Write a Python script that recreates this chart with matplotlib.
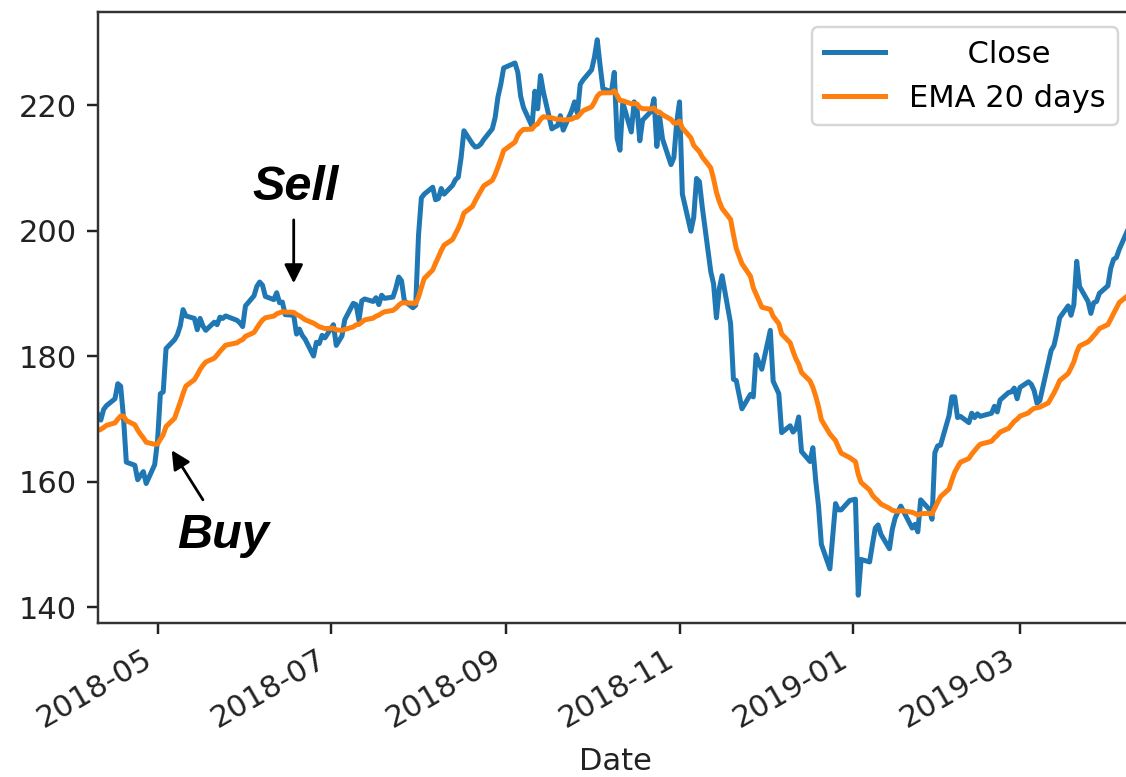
import pandas as pd
import matplotlib
matplotlib.use("Agg")
import matplotlib.pyplot as plt
import matplotlib.dates as mdates

# -----------------------------
# DATA  (adjusted close, one list per month)
# -----------------------------
apr_2018 = [170.7, 169.8, 171.5, 172.1, 173.2, 175.6, 175.2, 170.2, 163.1, 162.6,
            160.3, 161.0, 161.6, 159.7, 162.7]
may_2018 = [166.5, 174.0, 174.3, 181.2, 182.6, 183.4, 184.8, 187.4, 186.4, 186.0,
            184.2, 186.0, 184.8, 184.1, 185.4, 185.0, 186.2, 186.0, 186.4, 185.7,
            185.3, 184.7]
jun_2018 = [188.0, 189.6, 191.1, 191.8, 191.3, 189.5, 189.0, 190.1, 188.5, 188.6,
            186.6, 186.5, 183.5, 184.3, 183.3, 182.7, 180.0, 182.2, 182.0, 183.3,
            182.9]
jul_2018 = [185.0, 181.7, 183.2, 185.8, 188.4, 188.2, 185.7, 188.8, 189.1, 188.7,
            189.3, 188.2, 189.7, 189.2, 189.4, 190.8, 192.6, 192.0, 188.8, 187.7,
            188.1]
aug_2018 = [199.3, 205.2, 205.8, 206.9, 204.9, 205.1, 206.7, 205.8, 207.2, 208.1,
            208.5, 211.6, 215.9, 213.8, 213.3, 213.4, 213.8, 214.5, 216.2, 218.0,
            221.3, 223.3, 225.9]
sep_2018 = [226.7, 225.2, 221.4, 219.6, 216.6, 222.2, 219.4, 224.7, 222.1, 216.2,
            216.5, 216.7, 218.3, 216.0, 219.1, 220.5, 218.7, 223.3, 224.0]
oct_2018 = [225.6, 227.6, 230.4, 226.3, 222.6, 222.1, 225.2, 214.7, 212.8, 220.4,
            215.7, 220.5, 219.5, 214.3, 217.6, 219.0, 221.0, 213.4, 218.1, 214.6,
            210.5, 211.6, 217.2]
nov_2018 = [220.5, 205.8, 199.9, 202.1, 208.3, 207.8, 203.8, 193.5, 191.5, 186.1,
            190.7, 192.8, 185.2, 176.3, 176.1, 171.6, 173.9, 173.5, 180.2, 178.9,
            177.9]
dec_2018 = [184.1, 176.0, 174.0, 167.8, 168.9, 167.9, 168.4, 170.3, 164.8, 163.2,
            165.4, 160.2, 156.1, 150.0, 146.1, 156.5, 155.5, 155.5, 157.0]
jan_2019 = [157.2, 141.9, 147.6, 147.2, 150.0, 152.6, 153.1, 151.6, 149.3, 152.4,
            154.2, 155.2, 156.1, 152.6, 153.2, 152.0, 157.1, 155.6, 154.0, 164.6,
            165.7]
feb_2019 = [165.8, 170.5, 173.5, 173.5, 170.2, 170.4, 169.4, 170.9, 170.2, 170.8,
            170.4, 170.9, 172.0, 171.1, 173.0, 174.2, 174.3, 174.9, 173.2]
mar_2019 = [175.0, 175.9, 175.5, 174.5, 172.5, 172.9, 178.9, 180.9, 181.7, 183.7,
            186.1, 188.0, 186.5, 188.2, 195.1, 191.1, 188.7, 186.8, 188.5, 188.7,
            190.0]
apr_2019 = [191.2, 194.0, 195.4, 195.7, 197.0, 200.1, 199.5, 200.6]

# market holidays inside the window
nyse_holidays = ["2018-05-28", "2018-07-04", "2018-09-03", "2018-11-22", "2018-12-05",
                 "2018-12-25", "2019-01-01", "2019-01-21", "2019-02-18"]

ema_prev = 167.9   # EMA value on the day before the window
span = 20
y_ticks = [140, 160, 180, 200, 220]

close = (apr_2018 + may_2018 + jun_2018 + jul_2018 + aug_2018 + sep_2018 + oct_2018
         + nov_2018 + dec_2018 + jan_2019 + feb_2019 + mar_2019 + apr_2019)
dates = pd.bdate_range("2018-04-10", "2019-04-10", freq="C", holidays=nyse_holidays)

alpha = 2 / (span + 1)
ema = []
prev = ema_prev
for c in close:
    prev = alpha * c + (1 - alpha) * prev
    ema.append(prev)

# -----------------------------
# PLOT
# -----------------------------
fs = 22
fig = plt.figure(figsize=(11.26, 7.77), dpi=100)
ax = fig.add_axes([0.087, 0.198, 0.9196, 0.7864])

ax.plot(dates, close, color="#1f77b4", lw=3.6, label="      Close")
ax.plot(dates, ema, color="#ff7f0e", lw=3.6, label="EMA 20 days")

ax.set_xlim(dates[0], dates[-1])
ax.set_ylim(137.45, 234.8)
ax.set_yticks(y_ticks)
ax.xaxis.set_major_locator(mdates.MonthLocator(bymonth=[1, 3, 5, 7, 9, 11]))
ax.xaxis.set_major_formatter(mdates.DateFormatter("%Y-%m"))
ax.tick_params(labelsize=fs, length=7.7, width=1.76, pad=7.7, colors="#222222")
for lab in ax.get_xticklabels():
    lab.set_rotation(30)
    lab.set_ha("right")
ax.set_xlabel("Date", fontsize=fs, labelpad=9.5, color="#222222")
for s in ax.spines.values():
    s.set_linewidth(1.76)
    s.set_color("#333333")

leg = ax.legend(loc="upper right", fontsize=fs)
leg.get_frame().set_linewidth(1.76)

# buy / sell marks
mark_font = dict(family="Liberation Sans", weight="bold", style="italic", size=35)
arrow = dict(arrowstyle="-|>", color="black", lw=2, mutation_scale=28,
             shrinkA=0, shrinkB=0)
ax.annotate("", xy=(pd.Timestamp("2018-06-18"), 191.6),
            xytext=(pd.Timestamp("2018-06-18"), 201.7), arrowprops=arrow)
ax.text(pd.Timestamp("2018-06-18 12:00"), 204.9, "Sell", ha="center", va="baseline",
        **mark_font)
ax.annotate("", xy=(pd.Timestamp("2018-05-06"), 165.0),
            xytext=(pd.Timestamp("2018-05-17"), 157.1), arrowprops=arrow)
ax.text(pd.Timestamp("2018-05-24"), 149.4, "Buy", ha="center", va="baseline",
        **mark_font)

fig.savefig("out.png", dpi=100)
